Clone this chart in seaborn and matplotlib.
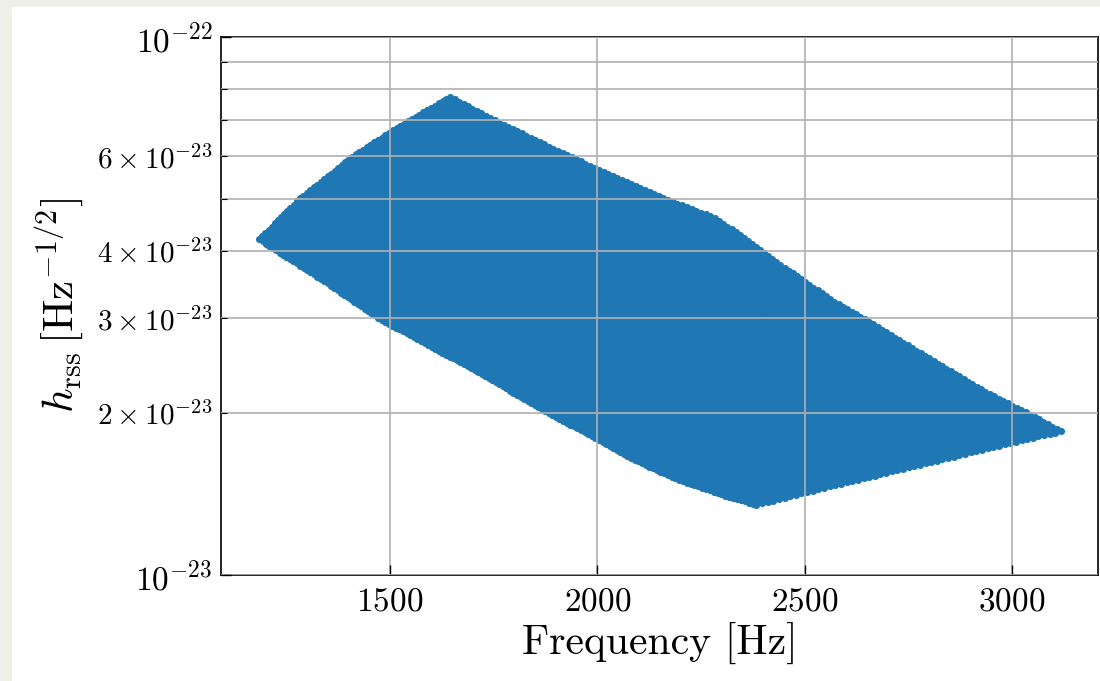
import numpy as np
import matplotlib
matplotlib.use("Agg")
import matplotlib.pyplot as plt
from matplotlib.patches import Rectangle
from matplotlib.ticker import FixedLocator
import seaborn as sns

# Outline of the scatter region.
# Upper-left edge: left corner -> top corner
edge_ul_freq = [1184, 1283, 1411, 1500, 1548, 1645]
edge_ul_hrss = [4.21e-23, 5.02e-23, 6.01e-23, 6.66e-23, 7.01e-23, 7.74e-23]

# Lower-right edge: bottom corner -> right corner
edge_lr_freq = [2384, 2495, 2729, 2996, 3119]
edge_lr_hrss = [1.35e-23, 1.42e-23, 1.57e-23, 1.76e-23, 1.85e-23]

# Lower-left edge: left corner -> bottom corner
edge_ll_freq = [1184, 1228, 1331, 1476, 1693, 1898, 2006, 2102, 2199, 2327, 2384]
edge_ll_hrss = [4.21e-23, 4.00e-23, 3.56e-23, 2.99e-23, 2.43e-23, 1.97e-23,
                1.78e-23, 1.62e-23, 1.50e-23, 1.39e-23, 1.35e-23]

# Upper-right edge: top corner -> right corner
edge_ur_freq = [1645, 1765, 1927, 2001, 2158, 2278, 2343, 2399, 2495, 2567,
                2645, 2753, 2849, 2941, 3042, 3119]
edge_ur_hrss = [7.74e-23, 6.92e-23, 6.03e-23, 5.68e-23, 5.02e-23, 4.63e-23,
                4.29e-23, 3.98e-23, 3.53e-23, 3.24e-23, 2.99e-23, 2.66e-23,
                2.40e-23, 2.18e-23, 1.99e-23, 1.85e-23]

n_along = 55     # points along each strand
n_strands = 140  # number of strands

x_ticks = [1500, 2000, 2500, 3000]
y_major = [1e-23, 1e-22]
y_minor = [2e-23, 3e-23, 4e-23, 5e-23, 6e-23, 7e-23, 8e-23, 9e-23]


def resample(freq, hrss, n):
    # even spacing along the curve (in screen-like units)
    x = np.asarray(freq, dtype=float)
    y = np.log10(hrss)
    d = np.r_[0, np.cumsum(np.hypot(np.diff(x) * 0.415, np.diff(y) * 538))]
    u = np.linspace(0, d[-1], n)
    return np.interp(u, d, x), np.interp(u, d, y)


c0x, c0y = resample(edge_ul_freq, edge_ul_hrss, n_along)
c1x, c1y = resample(edge_lr_freq, edge_lr_hrss, n_along)
d0x, d0y = resample(edge_ll_freq, edge_ll_hrss, n_strands)
d1x, d1y = resample(edge_ur_freq, edge_ur_hrss, n_strands)

s = np.linspace(0, 1, n_along)[None, :]
t = np.linspace(0, 1, n_strands)[:, None]


def patch(c0, c1, d0, d1):
    p00, p10, p01, p11 = c0[0], c0[-1], c1[0], c1[-1]
    return ((1 - t) * c0[None, :] + t * c1[None, :]
            + (1 - s) * d0[:, None] + s * d1[:, None]
            - ((1 - s) * (1 - t) * p00 + s * (1 - t) * p10
               + (1 - s) * t * p01 + s * t * p11))


freq = patch(c0x, c1x, d0x, d1x).ravel()
hrss = 10 ** patch(c0y, c1y, d0y, d1y).ravel()

plt.rcParams['font.family'] = 'serif'
plt.rcParams['font.serif'] = ['cmr10']
plt.rcParams['mathtext.fontset'] = 'cm'
plt.rcParams['axes.formatter.use_mathtext'] = True
plt.rcParams['axes.unicode_minus'] = False

fig = plt.figure(figsize=(11, 6.81), dpi=100, facecolor='#efefe9')
fig.add_artist(Rectangle((12 / 1100, 0), 1, 1 - 7 / 681, transform=fig.transFigure,
                         facecolor='white', edgecolor='none', zorder=-10))
ax = fig.add_axes([221 / 1100, 1 - 575 / 681, 877 / 1100, 538 / 681])

sns.scatterplot(x=freq, y=hrss, s=26, linewidth=0, color='#1f77b4', ax=ax,
                legend=False)

ax.set_yscale('log')
ax.set_ylim(1e-23, 1e-22)
ax.set_xlim(1092, 3208)
ax.set_xticks(x_ticks)
ax.yaxis.set_major_locator(FixedLocator(y_major))
ax.yaxis.set_minor_locator(FixedLocator(y_minor))

ax.grid(True, which='major', color='#b0b0b0', linewidth=1.2)
ax.grid(True, which='minor', axis='y', color='#b0b0b0', linewidth=1.2)
ax.set_axisbelow(False)

ax.tick_params(which='both', direction='in', color='black')
ax.tick_params(which='major', length=7, width=1.0, labelsize=24)
ax.tick_params(which='minor', length=4, width=0.8, labelsize=21)
ax.tick_params(axis='x', pad=9)
ax.tick_params(axis='y', which='both', pad=6)
for sp in ax.spines.values():
    sp.set_linewidth(1.2)

ax.set_xlabel('Frequency [Hz]', fontsize=30, labelpad=4)
ax.set_ylabel(r'$h_{\rm rss}\,[{\rm Hz}^{-1/2}]$', fontsize=31, labelpad=8)

fig.savefig('out.png', dpi=100, facecolor=fig.get_facecolor())
